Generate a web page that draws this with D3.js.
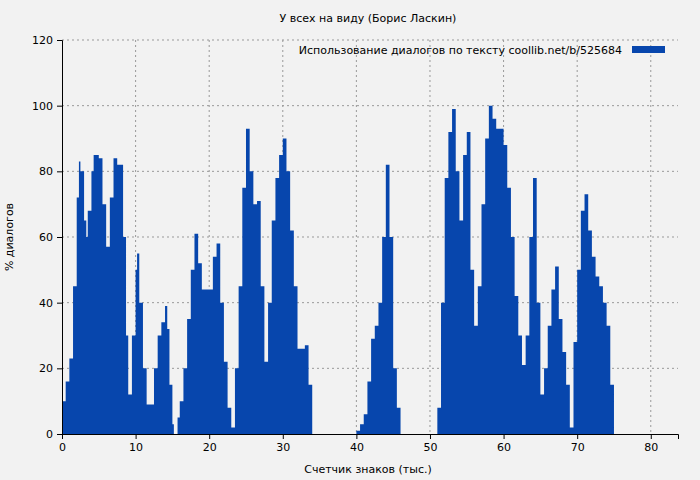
<!DOCTYPE html>
<html><head><meta charset="utf-8">
<script src="https://cdn.jsdelivr.net/npm/d3@7"></script>
<style>body{margin:0;background:#f2f2f2}text{font-family:"DejaVu Sans",sans-serif;font-size:11px;fill:#000}</style>
</head><body><svg id="viz" width="700" height="480"></svg>
<script>
var xs = [0,0.5,1,1.5,2,2.3,2.5,3,3.3,3.5,4,4.3,5,5.5,6,6.5,7,7.5,8,8.3,8.7,9,9.5,10,10.2,10.5,11,11.5,12,12.5,13,13.5,14,14.3,14.6,15,15.2,
  15.7,16,16.5,17,17.5,18,18.5,19,19.5,20,20.5,21,21.5,22,22.5,23,23.5,24,24.5,25,25.5,26,26.5,27,27.5,28,28.5,29,29.5,30,30.5,31,31.5,32,32.5,33,33.5,34,
  40,40.5,41,41.5,42,42.5,43,43.5,44,44.5,45,45.5,46,
  51,51.5,52,52.5,53,53.5,54,54.5,55,55.5,56,56.5,57,57.5,58,58.5,59,59.5,60,60.5,61,61.5,62,62.5,63,63.5,64,64.5,65,65.5,66,66.5,67,67.5,68,68.5,69,69.5,70,70.5,71,71.5,72,72.5,73,73.5,74,74.5,75]
var vals = [10,16,23,45,72,83,80,65,60,68,80,85,84,70,57,72,84,82,82,60,30,12,30,50,55,40,20,9,9,20,30,34,39,32,15,3,0,
  5,10,20,35,50,61,52,44,44,44,54,58,40,22,8,2,20,45,75,93,80,70,71,45,22,40,65,78,85,90,80,62,45,26,26,27,15,0,
  1,3,6,16,29,33,40,60,82,60,20,8,0,
  8,40,78,92,99,80,65,85,92,50,33,45,70,90,100,96,93,93,88,75,60,42,30,21,30,60,78,40,12,20,33,44,51,35,25,15,2,28,50,68,73,62,54,48,45,40,33,15,0]
var xTicks = [0,10,20,30,40,50,60,70,80]
var yTicks = [0,20,40,60,80,100,120]

var svg = d3.select("#viz")
var m = {l:62, r:678, t:40, b:434}
var x = d3.scaleLinear().domain([0,83.7]).range([m.l,m.r])
var y = d3.scaleLinear().domain([0,120]).range([m.b,m.t])

// grid
svg.append("g").selectAll("line").data(xTicks.slice(1)).join("line")
  .attr("x1",d=>x(d)).attr("x2",d=>x(d)).attr("y1",m.t).attr("y2",m.b)
  .attr("stroke","#999").attr("stroke-dasharray","2,3")
svg.append("g").selectAll("line").data(yTicks.slice(1)).join("line")
  .attr("x1",m.l).attr("x2",m.r).attr("y1",d=>y(d)).attr("y2",d=>y(d))
  .attr("stroke","#999").attr("stroke-dasharray","2,3")

var data = xs.map((d,i)=>[d,vals[i]])
svg.append("path").datum(data)
  .attr("d", d3.area().x(d=>x(d[0])).y0(y(0)).y1(d=>y(d[1])).curve(d3.curveStepAfter))
  .attr("fill","#0746ad")

var gx = svg.append("g").attr("transform",`translate(0,${m.b})`)
  .call(d3.axisBottom(x).tickValues(xTicks).tickSize(5).tickPadding(4))
var gy = svg.append("g").attr("transform",`translate(${m.l},0)`)
  .call(d3.axisLeft(y).tickValues(yTicks).tickSize(5).tickPadding(4))
gx.select(".domain").attr("stroke","#000"); gy.select(".domain").attr("stroke","#000")
svg.selectAll(".tick text").style("font-family","DejaVu Sans").style("font-size","11px")

svg.append("text").attr("x",368).attr("y",22).attr("text-anchor","middle").text("У всех на виду (Борис Ласкин)")
svg.append("text").attr("x",368).attr("y",473).attr("text-anchor","middle").text("Счетчик знаков (тыс.)")
svg.append("text").attr("transform","translate(13,237) rotate(-90)").attr("text-anchor","middle").text("% диалогов")
svg.append("text").attr("x",622).attr("y",54).attr("text-anchor","end").text("Использование диалогов по тексту  coollib.net/b/525684")
svg.append("rect").attr("x",632).attr("y",46).attr("width",33).attr("height",7).attr("fill","#0746ad")
</script></body></html>
